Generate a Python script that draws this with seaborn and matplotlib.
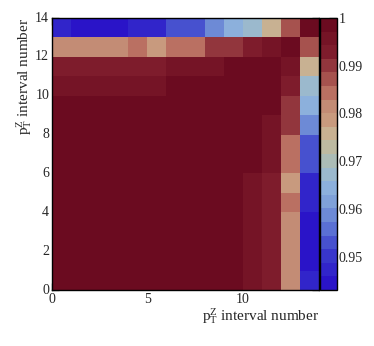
import numpy as np
import pandas as pd
import matplotlib
matplotlib.use('Agg')
import matplotlib.pyplot as plt
import seaborn as sns
from matplotlib.colors import LinearSegmentedColormap
from matplotlib.ticker import MultipleLocator

# pT^Z interval numbers (bins 0..13)
bins = list(range(14))

# correlation matrix, row 0 = bottom row
corr = [
    [1.000, 0.999, 0.999, 0.999, 0.999, 0.999, 0.999, 0.999, 0.999, 0.999, 0.9955, 0.9915, 0.9815, 0.9473],
    [0.999, 1.000, 0.999, 0.999, 0.999, 0.999, 0.999, 0.999, 0.999, 0.999, 0.9955, 0.9915, 0.9815, 0.9444],
    [0.999, 0.999, 1.000, 0.999, 0.999, 0.999, 0.999, 0.999, 0.999, 0.999, 0.9955, 0.9915, 0.9815, 0.9444],
    [0.999, 0.999, 0.999, 1.000, 0.999, 0.999, 0.999, 0.999, 0.999, 0.999, 0.9955, 0.9915, 0.9815, 0.9444],
    [0.999, 0.999, 0.999, 0.999, 1.000, 0.999, 0.999, 0.999, 0.999, 0.999, 0.9955, 0.9915, 0.9843, 0.9473],
    [0.999, 0.999, 0.999, 0.999, 0.999, 1.000, 0.999, 0.999, 0.999, 0.999, 0.9955, 0.9915, 0.9790, 0.9473],
    [0.999, 0.999, 0.999, 0.999, 0.999, 0.999, 1.000, 0.999, 0.999, 0.999, 0.999, 0.9955, 0.9843, 0.9530],
    [0.999, 0.999, 0.999, 0.999, 0.999, 0.999, 0.999, 1.000, 0.999, 0.999, 0.999, 0.9955, 0.9843, 0.9530],
    [0.999, 0.999, 0.999, 0.999, 0.999, 0.999, 0.999, 0.999, 1.000, 0.999, 0.999, 0.9955, 0.9890, 0.9600],
    [0.999, 0.999, 0.999, 0.999, 0.999, 0.999, 0.999, 0.999, 0.999, 1.000, 0.999, 0.999, 0.9890, 0.9635],
    [0.9955, 0.9955, 0.9955, 0.9955, 0.9955, 0.9955, 0.999, 0.999, 0.999, 0.999, 1.000, 0.999, 0.9915, 0.9685],
    [0.9915, 0.9915, 0.9915, 0.9915, 0.9915, 0.9915, 0.9955, 0.9955, 0.9955, 0.999, 0.999, 1.000, 0.9955, 0.9758],
    [0.9815, 0.9815, 0.9815, 0.9815, 0.9843, 0.9790, 0.9843, 0.9843, 0.9890, 0.9890, 0.9915, 0.9955, 1.000, 0.9860],
    [0.9473, 0.9444, 0.9444, 0.9444, 0.9473, 0.9473, 0.9530, 0.9530, 0.9600, 0.9635, 0.9685, 0.9758, 0.9860, 1.000],
]

zmin, zmax = 0.943, 1.0
cbar_ticks = [0.95, 0.96, 0.97, 0.98, 0.99, 1.0]
cbar_labels = ['0.95', '0.96', '0.97', '0.98', '0.99', '1']

# ROOT-like palette, 20 contour bands
anchor_vals = [0.943, 0.950, 0.955, 0.960, 0.964, 0.968, 0.9715, 0.975, 0.979, 0.9815, 0.984, 0.989, 0.994, 1.000]
anchor_cols = ['#2a14c8', '#3a3ccc', '#5a70d4', '#7a9cd8', '#8cb0dc', '#a0bcc8', '#b4bca8',
               '#c8b898', '#c89a7e', '#c49078', '#c07a68', '#a04848', '#7e1c2c', '#6b0b20']
pos = [(v - zmin) / (zmax - zmin) for v in anchor_vals]
cmap = LinearSegmentedColormap.from_list('root_pal', list(zip(pos, anchor_cols)), N=20)

sns.set_style('ticks')
plt.rcParams['font.family'] = ['Liberation Serif', 'DejaVu Serif']
plt.rcParams['mathtext.fontset'] = 'custom'
plt.rcParams['mathtext.rm'] = 'Liberation Serif'
plt.rcParams['mathtext.it'] = 'Liberation Serif:italic'

df = pd.DataFrame(corr, index=bins, columns=bins)

fig = plt.figure(figsize=(3.74, 3.46), dpi=100)
ax = fig.add_axes([52 / 374, 56 / 346, 267 / 374, 272 / 346])
cax = fig.add_axes([320 / 374, 56 / 346, 17 / 374, 272 / 346])

sns.heatmap(df, ax=ax, cbar_ax=cax, cmap=cmap, vmin=zmin, vmax=zmax, linewidths=0)
ax.invert_yaxis()

for s in ax.spines.values():
    s.set_visible(True)
    s.set_color('black')
    s.set_linewidth(1.0)

ax.set_xticks([0, 5, 10])
ax.set_xticklabels(['0', '5', '10'], rotation=0)
ax.set_yticks(list(range(0, 15, 2)))
ax.set_yticklabels([str(v) for v in range(0, 15, 2)], rotation=0)
ax.xaxis.set_minor_locator(MultipleLocator(1))
ax.yaxis.set_minor_locator(MultipleLocator(0.5))
ax.tick_params(which='both', direction='in', top=True, right=True, color='black')
ax.tick_params(which='major', length=5, width=0.9, labelsize=10, pad=2)
ax.tick_params(which='minor', length=2.5, width=0.8)

label = r'$\mathregular{p_{T}^{Z}}$ interval number'
ax.set_xlabel(label, loc='right', fontsize=11, labelpad=0)
ax.set_ylabel(label, loc='top', fontsize=11, labelpad=1)

cbar = ax.collections[0].colorbar
cbar.outline.set_linewidth(1.0)
cbar.outline.set_edgecolor('black')
cax.set_yticks(cbar_ticks)
cax.set_yticklabels(cbar_labels)
cax.tick_params(axis='y', which='both', direction='in', right=True, left=False,
                length=6, width=0.9, labelsize=10, pad=1, color='black')
cax.minorticks_off()

fig.savefig('out.png', dpi=100)
plt.close(fig)
